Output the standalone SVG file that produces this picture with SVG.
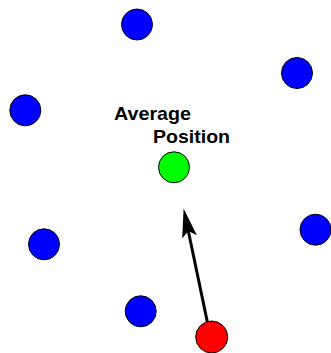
<svg xmlns="http://www.w3.org/2000/svg" width="331" height="353" viewBox="0 0 331 353">
<style>
.n{stroke:#000;stroke-width:1}
.b{fill:#0000ff}
.lbl{font-family:"Liberation Sans",Arial,sans-serif;font-weight:bold;font-size:19px;fill:#000}
.c{stroke:#000;stroke-width:3;fill:none}
</style>
<defs>
<marker id="ah" markerUnits="userSpaceOnUse" markerWidth="30" markerHeight="16" viewBox="0 -8 30 16" refX="6" refY="0" orient="auto">
<path d="M29,0 L0,-7.5 L6,0 L0,7.5 z" fill="#000"/>
</marker>
</defs>
<rect width="331" height="353" fill="#fff"/>
<g id="connectors">
<line class="c" x1="207.3" y1="321.7" x2="188.3" y2="231" marker-end="url(#ah)"/>
</g>
<g id="n1"><circle class="n b" cx="137" cy="24.5" r="15.5"/></g>
<g id="n2"><circle class="n b" cx="297" cy="73" r="15.5"/></g>
<g id="n3"><circle class="n b" cx="25.3" cy="110.3" r="15.5"/></g>
<g id="avg"><circle class="n" fill="#00ff00" cx="174" cy="167.3" r="15.5"/>
<text class="lbl" x="114" y="120" textLength="77" lengthAdjust="spacingAndGlyphs">Average</text>
<text class="lbl" x="153" y="143" textLength="77" lengthAdjust="spacingAndGlyphs">Position</text></g>
<g id="n4"><circle class="n b" cx="44" cy="244.3" r="15.5"/></g>
<g id="n5"><circle class="n b" cx="315.5" cy="229.7" r="15.5"/></g>
<g id="n6"><circle class="n b" cx="140.7" cy="311.3" r="15.5"/></g>
<g id="red"><circle class="n" fill="#ff0000" cx="211.7" cy="337" r="16"/></g>
</svg>
